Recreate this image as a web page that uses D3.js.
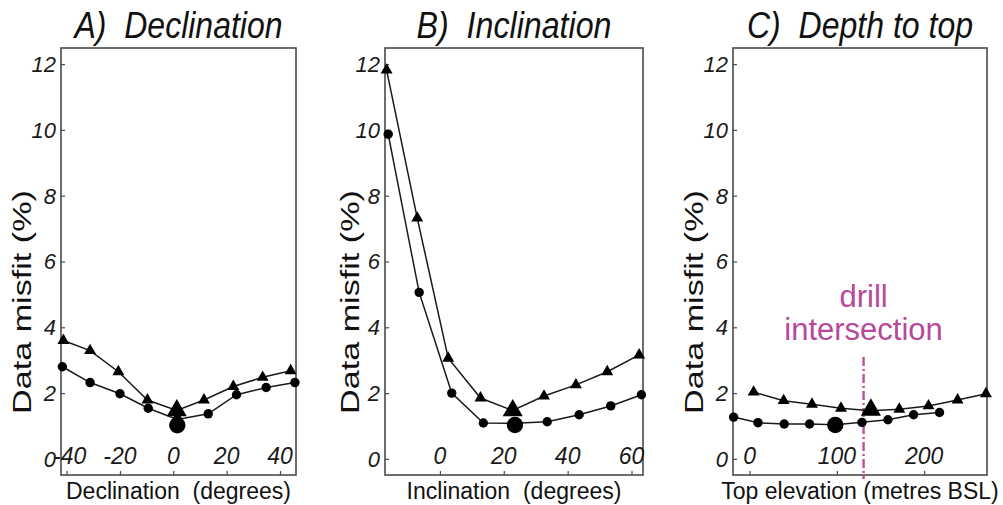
<!DOCTYPE html>
<html>
<head>
<meta charset="utf-8">
<script src="https://cdn.jsdelivr.net/npm/d3@7"></script>
<style>
  html, body { margin: 0; padding: 0; background: #fff; }
  svg { display: block; }
  text { font-family: "Liberation Sans", Arial, sans-serif; }
</style>
</head>
<body>
<svg id="chart" width="1003" height="505"></svg>
<script>
// ---------------- DATA ----------------
const yTicks = [0, 2, 4, 6, 8, 10, 12];

// A) Declination
const decTicks = [-40, -20, 0, 20, 40];
const decCircX = [-41.6, -31.2, -20.0, -9.4, 1.5, 13.1, 23.7, 34.8, 45.6];
const decCircY = [2.80, 2.32, 1.98, 1.54, 1.20, 1.37, 1.95, 2.17, 2.32];
const decTriX  = [-41.2, -31.2, -20.6, -9.7, 1.3, 11.5, 22.5, 33.5, 44.0];
const decTriY  = [3.60, 3.29, 2.65, 1.79, 1.47, 1.79, 2.20, 2.48, 2.68];
const decBestCirc = [1.5, 1.02];
const decBestTri  = [1.3, 1.47];

// B) Inclination
const incTicks = [0, 20, 40, 60];
const incCircX = [-16.2, -6.5, 3.7, 13.6, 23.5, 33.6, 43.6, 53.5, 63.1];
const incCircY = [9.87, 5.06, 2.00, 1.09, 1.08, 1.13, 1.34, 1.61, 1.95];
const incTriX  = [-16.7, -7.1, 2.6, 12.7, 22.8, 32.6, 42.6, 52.4, 62.4];
const incTriY  = [11.82, 7.32, 3.06, 1.85, 1.47, 1.91, 2.25, 2.65, 3.16];
const incBestCirc = [23.5, 1.03];
const incBestTri  = [22.8, 1.47];

// C) Depth to top
const depTicks = [0, 100, 200];
const depCircX = [-18.3, 9.6, 39.7, 68.7, 98.2, 128.8, 158.5, 187.9, 217.6];
const depCircY = [1.27, 1.10, 1.06, 1.06, 1.04, 1.11, 1.19, 1.34, 1.41];
const depTriX  = [4.6, 39.0, 71.5, 104.7, 139.0, 171.5, 205.0, 238.3, 270.8];
const depTriY  = [2.03, 1.77, 1.66, 1.54, 1.46, 1.51, 1.61, 1.79, 1.98];
const depBestCirc = [98.2, 1.03];
const depBestTri  = [139.0, 1.49];
const drillX = 130.6;
const drillTop = 3.1;

const titles = ["A)  Declination", "B)  Inclination", "C)  Depth to top"];
const xLabels = ["Declination  (degrees)", "Inclination  (degrees)", "Top elevation (metres BSL)"];
const yLabel = "Data misfit (%)";
const drillLabel = ["drill", "intersection"];

// ---------------- DRAWING ----------------
const svg = d3.select("#chart");
const plotTop = 48, plotBottom = 475;
const yDomain = [-0.49, 12.49];

const panels = [
  { left: 61,  right: 296, xDomain: [-42.1, 46],   ticks: decTicks,
    cx: decCircX, cy: decCircY, tx: decTriX, ty: decTriY, bc: decBestCirc, bt: decBestTri,
    title: titles[0], titleW: 208, xLabel: xLabels[0], yLabX: 31 },
  { left: 385, right: 643, xDomain: [-17.2, 63.6], ticks: incTicks,
    cx: incCircX, cy: incCircY, tx: incTriX, ty: incTriY, bc: incBestCirc, bt: incBestTri,
    title: titles[1], titleW: 195, xLabel: xLabels[1], yLabX: 359 },
  { left: 733, right: 987, xDomain: [-19, 272],    ticks: depTicks,
    cx: depCircX, cy: depCircY, tx: depTriX, ty: depTriY, bc: depBestCirc, bt: depBestTri,
    title: titles[2], titleW: 226, xLabel: xLabels[2], yLabX: 703, drill: true }
];

const lineCol = "#1a1a1a";

panels.forEach(p => {
  const x = d3.scaleLinear().domain(p.xDomain).range([p.left, p.right]);
  const y = d3.scaleLinear().domain(yDomain).range([plotBottom, plotTop]);
  const g = svg.append("g");
  const cx = (p.left + p.right) / 2;

  // frame
  g.append("rect")
    .attr("x", p.left).attr("y", plotTop)
    .attr("width", p.right - p.left).attr("height", plotBottom - plotTop)
    .attr("fill", "none").attr("stroke", "#4a4a4a").attr("stroke-width", 1.6);

  // y axis ticks (inward) + labels
  const yAx = d3.axisRight(y).tickValues(yTicks).tickSize(4).tickFormat("");
  const ya = g.append("g").attr("transform", `translate(${p.left},0)`).call(yAx);
  ya.select(".domain").remove();
  ya.selectAll("line").attr("stroke", "#4a4a4a").attr("stroke-width", 1.2);
  g.selectAll(".ytl").data(yTicks).enter().append("text")
    .attr("x", p.left - 5).attr("y", d => y(d))
    .attr("dy", "0.36em")
    .attr("text-anchor", "end")
    .attr("font-size", 22).attr("font-style", "italic").attr("fill", "#1a1a1a")
    .text(d => d);

  // x axis ticks (inward, from bottom) + labels inside plot
  const xAx = d3.axisTop(x).tickValues(p.ticks).tickSize(4).tickFormat("");
  const xa = g.append("g").attr("transform", `translate(0,${plotBottom})`).call(xAx);
  xa.select(".domain").remove();
  xa.selectAll("line").attr("stroke", "#4a4a4a").attr("stroke-width", 1.2);
  g.selectAll(".xtl").data(p.ticks).enter().append("text")
    .attr("x", d => x(d) + (d === -40 ? 3 : 0)).attr("y", 464)
    .attr("text-anchor", "middle")
    .attr("font-size", 23).attr("font-style", "italic").attr("fill", "#1a1a1a")
    .text(d => d);

  // drill intersection
  if (p.drill) {
    g.append("line")
      .attr("x1", x(drillX)).attr("x2", x(drillX))
      .attr("y1", y(drillTop)).attr("y2", plotBottom + 4)
      .attr("stroke", "#c0509c").attr("stroke-width", 2.4)
      .attr("stroke-dasharray", "9,3,2,3");
    g.append("text").attr("x", x(drillX)).attr("y", 307)
      .attr("text-anchor", "middle").attr("font-size", 31).attr("fill", "#b8489a")
      .text(drillLabel[0]);
    g.append("text").attr("x", x(drillX)).attr("y", 340)
      .attr("text-anchor", "middle").attr("font-size", 31).attr("fill", "#b8489a")
      .text(drillLabel[1]);
  }

  // series lines
  const line = d3.line().x(d => x(d[0])).y(d => y(d[1]));
  const circ = p.cx.map((v, i) => [v, p.cy[i]]);
  const tri = p.tx.map((v, i) => [v, p.ty[i]]);
  g.append("path").datum(circ).attr("d", line)
    .attr("fill", "none").attr("stroke", lineCol).attr("stroke-width", 1.5);
  g.append("path").datum(tri).attr("d", line)
    .attr("fill", "none").attr("stroke", lineCol).attr("stroke-width", 1.5);

  // markers
  g.selectAll(".c").data(circ).enter().append("circle")
    .attr("cx", d => x(d[0])).attr("cy", d => y(d[1])).attr("r", 4.7)
    .attr("fill", "#000");
  const triSym = d3.symbol().type(d3.symbolTriangle).size(62);
  g.selectAll(".t").data(tri).enter().append("path")
    .attr("d", triSym)
    .attr("transform", d => `translate(${x(d[0])},${y(d[1])})`)
    .attr("fill", "#000");
  // best-fit (large) markers
  g.append("path")
    .attr("d", d3.symbol().type(d3.symbolTriangle).size(175)())
    .attr("transform", `translate(${x(p.bt[0])},${y(p.bt[1])})`)
    .attr("fill", "#000");
  g.append("circle")
    .attr("cx", x(p.bc[0])).attr("cy", y(p.bc[1])).attr("r", 8.2)
    .attr("fill", "#000");

  // title
  g.append("text")
    .attr("x", cx).attr("y", 38)
    .attr("text-anchor", "middle")
    .attr("font-size", 37).attr("font-style", "italic").attr("fill", "#111")
    .attr("textLength", p.titleW).attr("lengthAdjust", "spacingAndGlyphs")
    .style("white-space", "pre")
    .text(p.title);

  // x label
  g.append("text")
    .attr("x", cx).attr("y", 499)
    .attr("text-anchor", "middle")
    .attr("font-size", 23).attr("fill", "#111")
    .style("white-space", "pre")
    .text(p.xLabel);

  // y label
  g.append("text")
    .attr("transform", `translate(${p.yLabX},302) rotate(-90)`)
    .attr("text-anchor", "middle")
    .attr("font-size", 26).attr("fill", "#111")
    .attr("textLength", 224).attr("lengthAdjust", "spacingAndGlyphs")
    .text(yLabel);
});
</script>
</body>
</html>
